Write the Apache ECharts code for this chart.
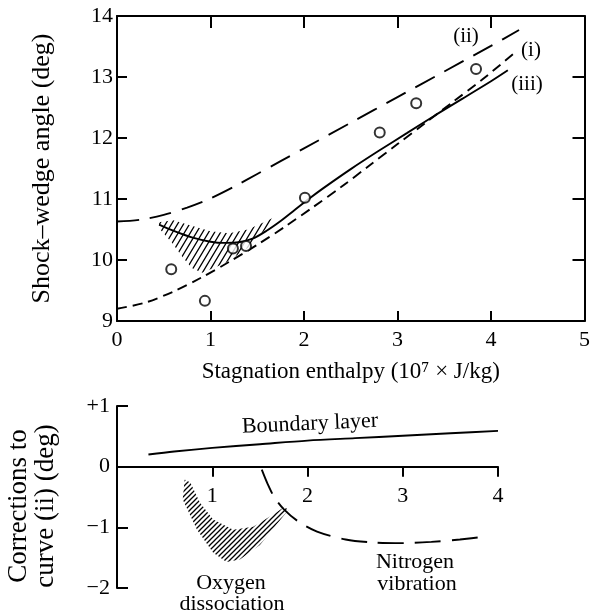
<!DOCTYPE html>
<html><head><meta charset="utf-8">
<script src="https://cdn.jsdelivr.net/npm/echarts@6/dist/echarts.min.js"></script>
<style>html,body{margin:0;padding:0;background:#fff}#c{width:593px;height:614px}</style>
</head><body><div id="c"></div>
<script>
// ---- tick values ----
const topXTicks = [0, 1, 2, 3, 4, 5];
const topYTicks = [9, 10, 11, 12, 13, 14];
const botXTicks = [0, 1, 2, 3, 4];
const botYTicks = [-2, -1, 0, 1];
const botYTickLabels = ['\u22122', '\u22121', '0', '+1'];

// ---- top panel: curve (ii) long dashes ----
const curveIIx = [0, 0.25, 0.5, 0.75, 1.0, 1.25, 1.5, 1.75, 2.0, 2.5, 3.0, 3.5, 4.0, 4.3];
const curveIIy = [10.63, 10.66, 10.74, 10.86, 11.01, 11.2, 11.41, 11.62, 11.83, 12.25, 12.67, 13.09, 13.51, 13.77];
// ---- solid curve ----
const solidX = [0.45, 0.6, 0.8, 1.0, 1.15, 1.3, 1.45, 1.6, 1.75, 1.9, 2.05, 2.2, 2.5, 2.8, 3.1, 3.4, 3.7, 4.0, 4.18];
const solidY = [10.58, 10.48, 10.37, 10.30, 10.28, 10.29, 10.35, 10.48, 10.64, 10.82, 11.0, 11.17, 11.49, 11.79, 12.08, 12.37, 12.65, 12.93, 13.11];
// ---- short dashed curve ----
const shortX = [0, 0.3, 0.6, 0.9, 1.2, 1.5, 1.8, 2.1, 2.4, 2.7, 3.0, 3.3, 3.6, 3.9, 4.24];
const shortY = [9.20, 9.30, 9.48, 9.71, 9.97, 10.25, 10.55, 10.87, 11.2, 11.55, 11.9, 12.25, 12.6, 12.95, 13.38];
// ---- experimental points ----
const expX = [0.58, 0.94, 1.24, 1.38, 2.01, 2.81, 3.20, 3.84];
const expY = [9.85, 9.33, 10.19, 10.23, 11.02, 12.09, 12.57, 13.13];
// ---- hatched band (top) ----
const hatchTopX = [0.45, 0.6, 0.8, 1.0, 1.2, 1.4, 1.6, 1.68, 1.6, 1.41, 1.16, 0.91, 0.80, 0.70, 0.59, 0.45];
const hatchTopY = [10.62, 10.65, 10.56, 10.47, 10.44, 10.5, 10.64, 10.7, 10.52, 10.21, 9.95, 9.79, 9.87, 10.05, 10.28, 10.52];

// ---- bottom panel ----
const boundaryX = [0.33, 0.6, 1.0, 1.5, 2.0, 2.5, 3.0, 3.5, 4.0];
const boundaryY = [0.20, 0.25, 0.31, 0.37, 0.43, 0.47, 0.51, 0.55, 0.59];
const nitrogenX = [1.52, 1.58, 1.65, 1.75, 1.9, 2.1, 2.4, 2.7, 3.0, 3.3, 3.6, 3.88];
const nitrogenY = [-0.05, -0.28, -0.5, -0.7, -0.9, -1.07, -1.2, -1.25, -1.26, -1.24, -1.2, -1.15];
const oxygenX = [0.71, 0.69, 0.84, 1.01, 1.15, 1.29, 1.50, 1.76, 1.80, 1.76, 1.64, 1.43, 1.22, 1.01, 0.87, 0.77];
const oxygenY = [-0.21, -0.54, -1.04, -1.42, -1.57, -1.53, -1.29, -0.79, -0.72, -0.66, -0.79, -0.99, -1.04, -0.87, -0.59, -0.26];

const FONT = 'Liberation Serif, Times New Roman, serif';

function hatch(w, h, lw) {
  const c = document.createElement('canvas'); c.width = w; c.height = h;
  const g = c.getContext('2d'); g.strokeStyle = '#000'; g.lineWidth = lw;
  g.beginPath();
  for (let k = -2; k <= 2; k++) { g.moveTo(k * w - w, 2 * h); g.lineTo(k * w + 2 * w, -h); }
  g.stroke();
  return c;
}
const patTop = hatch(6, 10, 1.3);
const patBot = hatch(5, 5, 1.3);

function polySeries(xs, ys, pat, xi, yi) {
  return {
    type: 'custom', xAxisIndex: xi, yAxisIndex: yi, silent: true, z: 1,
    data: [[xs[0], ys[0]]],
    renderItem: (params, api) => ({
      type: 'polygon',
      shape: { points: xs.map((x, i) => api.coord([x, ys[i]])) },
      style: { fill: { image: pat, repeat: 'repeat' }, stroke: null }
    })
  };
}
function line(xs, ys, type, xi, yi) {
  return {
    type: 'line', xAxisIndex: xi, yAxisIndex: yi, silent: true, z: 3,
    data: xs.map((x, i) => [x, ys[i]]), symbol: 'none', showSymbol: false,
    smooth: 0.3,
    lineStyle: { color: '#000', width: 1.9, type: type }
  };
}
const axLine = { lineStyle: { color: '#000', width: 2 } };
const lab = (o) => Object.assign({ color: '#000', fontFamily: FONT, fontSize: 22 }, o);
const txt = (x, y, s, size, extra) => Object.assign({ type: 'text', x: x, y: y,
  style: { text: s, font: size + 'px ' + FONT, fill: '#000', align: 'center', verticalAlign: 'middle' } }, extra || {});

const chart = echarts.init(document.getElementById('c'), null, { renderer: 'canvas' });
chart.setOption({
  animation: false,
  backgroundColor: '#fff',
  grid: [
    { left: 117, top: 16, width: 472, height: 305 },
    { left: 117, top: 406, width: 381, height: 182 },
    { left: 117, top: 406, width: 381, height: 60.67 }
  ],
  xAxis: [
    { gridIndex: 0, type: 'value', min: topXTicks[0], max: topXTicks[topXTicks.length - 1], interval: 1,
      axisLine: axLine, splitLine: { show: false },
      axisTick: { inside: true, length: 10, lineStyle: { color: '#000', width: 2 } },
      axisLabel: lab({ margin: 8, showMinLabel: true, showMaxLabel: true }),
      name: 'Stagnation enthalpy (10\u2077 \u00d7 J/kg)', nameLocation: 'middle', nameGap: 39,
      nameTextStyle: { color: '#000', fontFamily: FONT, fontSize: 23 } },
    { gridIndex: 0, type: 'value', position: 'top', min: topXTicks[0], max: topXTicks[topXTicks.length - 1], interval: 1,
      axisLine: Object.assign({ onZero: false }, axLine), splitLine: { show: false },
      axisTick: { inside: true, length: 12, lineStyle: { color: '#000', width: 2 } },
      axisLabel: { show: false } },
    { gridIndex: 1, type: 'value', show: false, min: botXTicks[0], max: botXTicks[botXTicks.length - 1] },
    { gridIndex: 2, type: 'value', min: botXTicks[0], max: botXTicks[botXTicks.length - 1], interval: 1,
      axisLine: Object.assign({ onZero: false }, axLine), splitLine: { show: false },
      axisTick: { inside: false, length: 10, lineStyle: { color: '#000', width: 2 } },
      axisLabel: lab({ margin: 19, formatter: v => (v === 0 ? '' : String(v)) }) }
  ],
  yAxis: [
    { gridIndex: 0, type: 'value', min: topYTicks[0], max: topYTicks[topYTicks.length - 1], interval: 1,
      axisLine: axLine, splitLine: { show: false },
      axisTick: { inside: true, length: 10, lineStyle: { color: '#000', width: 2 } },
      axisLabel: lab({ margin: 4, showMinLabel: true, showMaxLabel: true }),
      name: 'Shock\u2013wedge angle (deg)', nameLocation: 'middle', nameGap: 62,
      nameTextStyle: { color: '#000', fontFamily: FONT, fontSize: 26 } },
    { gridIndex: 0, type: 'value', position: 'right', min: topYTicks[0], max: topYTicks[topYTicks.length - 1], interval: 1,
      axisLine: Object.assign({ onZero: false }, axLine), splitLine: { show: false },
      axisTick: { inside: true, length: 12, lineStyle: { color: '#000', width: 2 } },
      axisLabel: { show: false } },
    { gridIndex: 1, type: 'value', min: botYTicks[0], max: botYTicks[botYTicks.length - 1], interval: 1,
      axisLine: Object.assign({ onZero: false }, axLine), splitLine: { show: false },
      axisTick: { inside: true, length: 11, lineStyle: { color: '#000', width: 2 } },
      axisLabel: lab({ margin: 7, showMinLabel: true, showMaxLabel: true,
        formatter: v => botYTickLabels[botYTicks.indexOf(v)] }) },
    { gridIndex: 2, type: 'value', show: false, min: 0, max: 1 }
  ],
  series: [
    polySeries(hatchTopX, hatchTopY, patTop, 0, 0),
    line(curveIIx, curveIIy, [22, 11], 0, 0),
    line(solidX, solidY, 'solid', 0, 0),
    line(shortX, shortY, [10, 6], 0, 0),
    { type: 'scatter', xAxisIndex: 0, yAxisIndex: 0, z: 5, silent: true,
      data: expX.map((x, i) => [x, expY[i]]), symbol: 'emptyCircle', symbolSize: 10,
      itemStyle: { color: '#000', borderColor: '#000', borderWidth: 1.6 } },
    polySeries(oxygenX, oxygenY, patBot, 2, 2),
    line(boundaryX, boundaryY, 'solid', 2, 2),
    line(nitrogenX, nitrogenY, [26, 11], 2, 2)
  ],
  graphic: [
    txt(466, 36, '(ii)', 21),
    txt(531, 50, '(i)', 21),
    txt(527, 84, '(iii)', 21),
    txt(310, 424, 'Boundary layer', 22, { rotation: 0.045 }),
    txt(231, 583, 'Oxygen', 22),
    txt(232, 604, 'dissociation', 22),
    txt(415, 562, 'Nitrogen', 22),
    txt(417, 584, 'vibration', 22),
    txt(19, 506, 'Corrections to', 27, { rotation: Math.PI / 2 }),
    txt(46, 506, 'curve (ii) (deg)', 27, { rotation: Math.PI / 2 })
  ]
});
</script></body></html>
